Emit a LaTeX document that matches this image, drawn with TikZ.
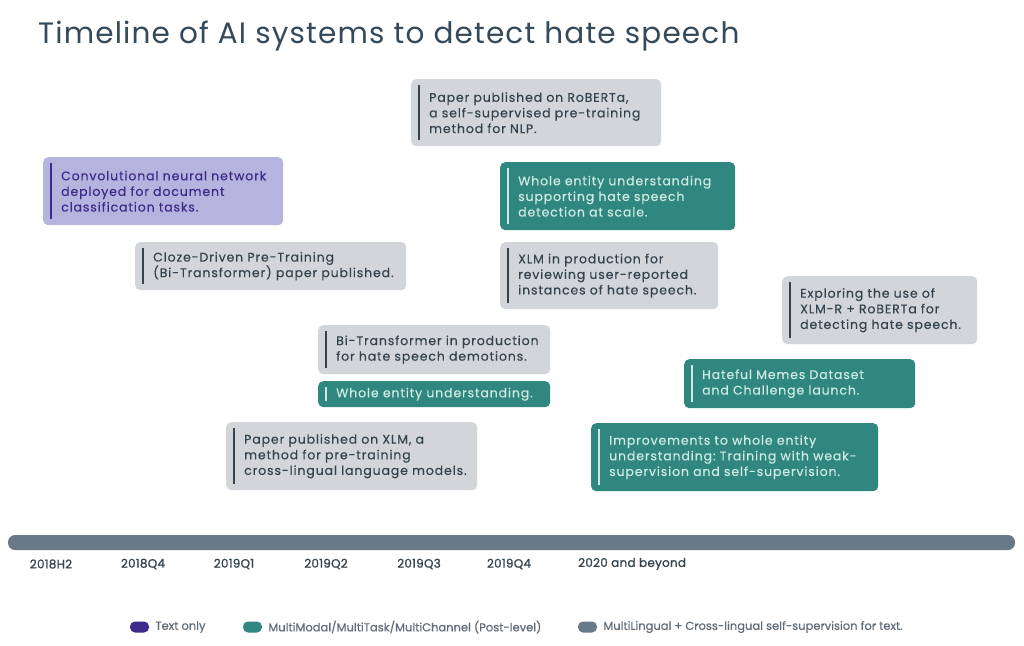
\documentclass[tikz,border=0pt]{standalone}
\usepackage{fontspec}
\setmainfont[LetterSpace=7, FakeBold=0.4]{Poppins}
\newfontfamily\titlefont[LetterSpace=4]{Poppins}
\newfontfamily\tickfont[LetterSpace=2, FakeBold=1.2]{Poppins}
\newfontfamily\legendfont[FakeBold=0.4]{Poppins}
\usetikzlibrary{positioning,backgrounds}
\definecolor{boxgrey}{HTML}{D2D6DA}
\definecolor{inkgrey}{HTML}{34444F}
\definecolor{boxteal}{HTML}{2F8780}
\definecolor{inkteal}{HTML}{CFE9E3}
\definecolor{boxlilac}{HTML}{B4B4DE}
\definecolor{inklilac}{HTML}{3D2B8C}
\definecolor{axisgrey}{HTML}{687988}
\definecolor{guidegrey}{HTML}{E3E5E8}
\definecolor{titleink}{HTML}{34495A}
\definecolor{legendink}{HTML}{5E6C78}
\frenchspacing

\begin{document}
\begin{tikzpicture}[x=1pt, y=-1pt,
    evbox/.style={anchor=north west, rounded corners=5pt, inner xsep=4pt, inner ysep=0pt,
        align=left, font=\fontsize{12.5}{15.6}\selectfont,
        execute at begin node={\leftskip=14pt\rightskip=-30pt plus 1fil},
        path picture={\draw[line width=2.4pt, #1]
            ([xshift=8pt, yshift=-6pt]path picture bounding box.north west) --
            ([xshift=8pt, yshift=6pt]path picture bounding box.south west);}},
    greybox/.style={evbox=inkgrey, fill=boxgrey, text=inkgrey},
    tealbox/.style={evbox=inkteal, fill=boxteal, text=inkteal},
    lilacbox/.style={evbox=inklilac, fill=boxlilac, text=inklilac},
    guide/.style={draw=guidegrey, line width=1.5pt},
    tick/.style={font=\tickfont\fontsize{12}{15}\selectfont, text=inkgrey},
    pill/.style={rounded corners=5pt, minimum width=19pt, minimum height=11pt, inner sep=0pt},
    legend/.style={font=\legendfont\fontsize{11.5}{14}\selectfont, text=legendink, inner sep=0pt, right=6pt of #1}]

    \useasboundingbox[fill=white] (0,0) rectangle (1024,645);

    % Title
    \node[anchor=base west, inner sep=0pt, text=titleink, font=\titlefont\fontsize{29.5}{34}\selectfont] (title) at (38,43) {Timeline of AI systems to detect hate speech};

    % Events
    \node[lilacbox, text width=232pt, minimum height=68pt] (cnn) at (43,157) {Convolutional neural network\\deployed for document\\classification tasks.};
    \node[greybox, text width=263pt, minimum height=48pt] (cloze) at (135,242) {Cloze-Driven Pre-Training\\(Bi-Transformer) paper published.};
    \node[greybox, text width=242pt, minimum height=67pt] (roberta) at (411,79) {Paper published on RoBERTa,\\a self-supervised pre-training\\method for NLP.};
    \node[tealbox, text width=227pt, minimum height=68pt] (scale) at (500,162) {Whole entity understanding\\supporting hate speech\\detection at scale.};
    \node[greybox, text width=210pt, minimum height=67pt] (xlmprod) at (500,242) {XLM in production for\\reviewing user-reported\\instances of hate speech.};
    \node[greybox, text width=187pt, minimum height=68pt] (explore) at (782,276) {Exploring the use of\\XLM-R + RoBERTa for\\detecting hate speech.};
    \node[tealbox, text width=223pt, minimum height=49pt] (memes) at (684,359) {Hateful Memes Dataset\\and Challenge launch.};
    \node[greybox, text width=224pt, minimum height=49pt] (bitrans) at (318,325) {Bi-Transformer in production\\for hate speech demotions.};
    \node[tealbox, text width=224pt, minimum height=26pt] (whole) at (318,381) {Whole entity understanding.};
    \node[greybox, text width=243pt, minimum height=68pt] (xlmpaper) at (226,422) {Paper published on XLM, a\\method for pre-training\\cross-lingual language models.};
    \node[tealbox, text width=279pt, minimum height=68pt] (improve) at (591,423) {Improvements to whole entity\\understanding: Training with weak-\\supervision and self-supervision.};

    % Axis
    \node[fill=axisgrey, rounded corners=7pt, minimum width=1007pt, minimum height=15pt, inner sep=0pt] (axis) at (511.5,542.5) {};

    % Guides behind the boxes
    \begin{pgfonlayer}{background}
        \draw[guide] ([xshift=8pt]cnn.south west) -- ([xshift=8pt]cnn.south west |- axis.north);
        \draw[guide] ([xshift=8pt]cloze.south west) -- ([xshift=8pt]cloze.south west |- axis.north);
        \draw[guide] ([xshift=8pt]xlmpaper.south west) -- ([xshift=8pt]xlmpaper.south west |- axis.north);
        \draw[guide] ([xshift=8pt]bitrans.south west) -- ([xshift=8pt]bitrans.south west |- axis.north);
        \draw[guide] ([xshift=8pt]roberta.south west) -- ([xshift=8pt]roberta.south west |- axis.north);
        \draw[guide] ([xshift=8pt]scale.south west) -- ([xshift=8pt]scale.south west |- axis.north);
        \draw[guide] ([xshift=8pt]improve.south west) -- ([xshift=8pt]improve.south west |- axis.north);
    \end{pgfonlayer}

    % Periods
    \node[tick] (h2) at (51,564) {2018H2};
    \node[tick] (q4a) at (143,564) {2018Q4};
    \node[tick] (q1) at (234,564) {2019Q1};
    \node[tick] (q2) at (326,564) {2019Q2};
    \node[tick] (q3) at (419,564) {2019Q3};
    \node[tick] (q4b) at (509,564) {2019Q4};
    \node[tick, anchor=west, inner xsep=0pt] (beyond) at (578,564) {2020 and beyond};

    % Legend
    \node[pill, fill=inklilac] (ltext) at (139.5,627) {};
    \node[legend=ltext] (ltexttag) {Text only};
    \node[pill, fill=boxteal] (lmulti) at (252.5,627) {};
    \node[legend=lmulti] (lmultitag) {MultiModal/MultiTask/MultiChannel (Post-level)};
    \node[pill, fill=axisgrey] (lling) at (587.5,627) {};
    \node[legend=lling] (llingtag) {MultiLingual + Cross-lingual self-supervision for text.};
\end{tikzpicture}
\end{document}
